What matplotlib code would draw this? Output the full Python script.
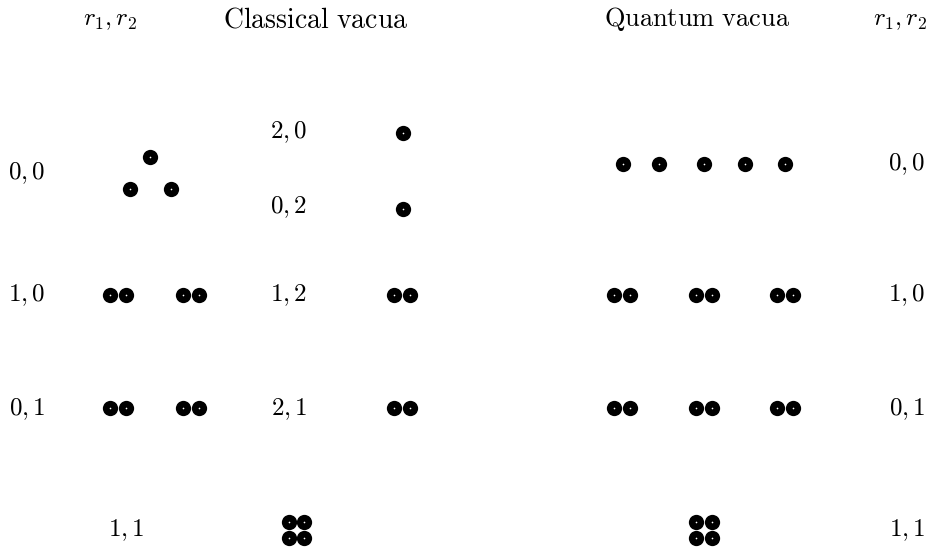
import numpy as np
import matplotlib
matplotlib.use('Agg')
import matplotlib.pyplot as plt

plt.rcParams['mathtext.fontset'] = 'cm'

# header texts (x, y, text, size)
headers = [(110, 20, r'$r_1, r_2$', 18),
           (316, 19, r'$\mathrm{Classical\ vacua}$', 20),
           (697, 19, r'$\mathrm{Quantum\ vacua}$', 19),
           (900, 20, r'$r_1, r_2$', 18)]

# r1,r2 labels
left_labels = [(27, 173, '0, 0'), (27, 295, '1, 0'), (27, 409, '0, 1'), (126, 530, '1, 1')]
mid_labels = [(289, 132, '2, 0'), (289, 207, '0, 2'), (289, 295, '1, 2'), (289, 409, '2, 1')]
right_labels = [(907, 164, '0, 0'), (907, 295, '1, 0'), (907, 409, '0, 1'), (907, 530, '1, 1')]

# vacuum dots
triangle_x = [150, 130, 171]
triangle_y = [157, 189, 189]
pair_x = [110, 126, 183, 199]
mid_x = [403, 403, 394, 410, 394, 410]
mid_y = [133, 209, 295, 295, 408, 408]
quad_x = [289, 304, 289, 304]
quad_y = [522, 522, 538, 538]
quantum_x = [623, 659, 704, 745, 785]
quantum_y = [164] * 5
qpair_x = [614, 630, 696, 712, 777, 793]
qquad_x = [696, 712, 696, 712]
row_y = [295, 408]

fig = plt.figure(figsize=(9.3, 5.52), dpi=100)
ax = fig.add_axes([0, 0, 1, 1])
ax.set_xlim(0, 930)
ax.set_ylim(552, 0)
ax.axis('off')

def dots(xs, ys):
    ax.plot(xs, ys, 'o', color='black', markersize=11, markeredgewidth=0)
    ax.plot(xs, ys, 'o', color='white', markersize=1.2, markeredgewidth=0)

dots(triangle_x, triangle_y)
for y in row_y:
    dots(pair_x, [y] * len(pair_x))
    dots(qpair_x, [y] * len(qpair_x))
dots(mid_x, mid_y)
dots(quad_x, quad_y)
dots(quantum_x, quantum_y)
dots(qquad_x, quad_y)

for x, y, t, s in headers:
    ax.text(x, y, t, fontsize=s, ha='center', va='center')
for x, y, t in left_labels + mid_labels + right_labels:
    ax.text(x, y, '$' + t + '$', fontsize=18, ha='center', va='center')

plt.savefig('out.png', dpi=100)
